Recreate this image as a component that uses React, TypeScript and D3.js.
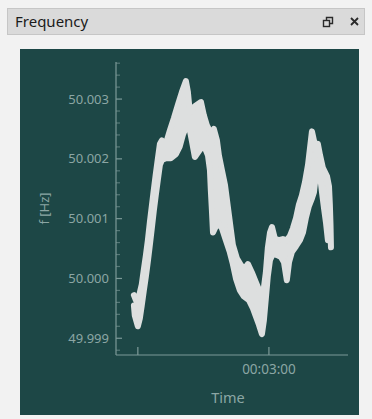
import React from "react";
import * as d3 from "d3";

// Grid frequency record: upper and lower envelope traces of the noisy signal
const timeUpper = [
  118.2, 119.1, 120.5, 121.8, 122.7, 123.7, 124.6, 125.5, 126.4, 127.3, 128.2, 129.2, 130.1, 131.0,
  131.9, 133.3, 134.7, 136.5, 138.3, 140.2, 142.0, 142.9, 143.8, 146.1, 148.9, 150.2, 151.6, 153.4,
  154.8, 156.2, 157.1, 158.5, 159.9, 160.8, 161.7, 162.6, 163.5, 165.3, 167.2, 169.0, 170.4, 172.2,
  174.0, 175.9, 177.2, 178.6, 179.5, 180.5, 181.4, 182.7, 184.6, 186.4, 188.2, 189.6, 191.0, 192.4,
  193.7, 195.1, 196.5, 197.9, 198.8, 199.7, 200.6, 201.5, 202.4, 203.4, 204.7, 206.6, 207.5, 207.9,
  208.2, 208.4,
];
const freqUpper = [
  49.99972, 49.99964, 49.9997, 49.9999, 50.00014, 50.00039, 50.00064, 50.00094, 50.00121, 50.00148,
  50.00174, 50.00201, 50.00225, 50.00231, 50.00221, 50.00231, 50.00248, 50.00268, 50.0029, 50.00312,
  50.0033, 50.00312, 50.00278, 50.00288, 50.00295, 50.00273, 50.00256, 50.00243, 50.0025, 50.00231,
  50.00206, 50.00181, 50.00156, 50.00131, 50.00106, 50.00081, 50.00056, 50.00034, 50.00022, 50.00017,
  50.00024, 50.0001, 49.99994, 49.99977, 49.9997, 50.0001, 50.00051, 50.00077, 50.00086, 50.00067,
  50.00064, 50.00066, 50.00064, 50.00071, 50.00084, 50.00101, 50.00123, 50.00139, 50.00161, 50.0019,
  50.00218, 50.00246, 50.00231, 50.00215, 50.00225, 50.00206, 50.00185, 50.00171, 50.00154, 50.00123,
  50.00089, 50.00052,
];
const timeLower = [
  118.2, 118.6, 120.0, 120.9, 121.8, 122.7, 123.7, 124.6, 125.5, 126.4, 127.3, 128.2, 129.2, 130.1,
  131.0, 132.8, 135.1, 137.4, 139.2, 140.6, 142.0, 143.4, 144.7, 146.1, 148.4, 150.2, 152.1, 153.0,
  153.4, 153.9, 154.4, 156.6, 158.5, 160.3, 162.1, 163.5, 164.9, 166.7, 168.5, 170.8, 172.7, 174.0,
  175.4, 176.8, 177.7, 178.6, 179.5, 180.5, 181.8, 183.7, 185.5, 186.9, 188.2, 189.2, 190.5, 192.4,
  194.2, 195.6, 196.9, 198.3, 199.7, 200.6, 201.5, 202.4, 203.4, 204.3, 205.2, 206.1, 207.0,
];
const freqLower = [
  49.99955, 49.99938, 49.9992, 49.99933, 49.99955, 49.99979, 50.00004, 50.00029, 50.00056, 50.00084,
  50.00113, 50.00139, 50.00166, 50.0019, 50.00198, 50.00201, 50.00201, 50.00208, 50.00221, 50.0024,
  50.00253, 50.00256, 50.00231, 50.00203, 50.00215, 50.00223, 50.00206, 50.00181, 50.00148, 50.00114,
  50.00077, 50.00094, 50.00084, 50.00064, 50.00044, 50.00024, 50.0, 49.9998, 49.9997, 49.99964,
  49.9995, 49.99937, 49.99923, 49.99907, 49.9993, 49.99967, 50.00004, 50.00031, 50.00041, 50.00039,
  50.00036, 50.00027, 49.99997, 50.00027, 50.00044, 50.00054, 50.00064, 50.00077, 50.00101, 50.00121,
  50.00134, 50.00144, 50.00173, 50.00195, 50.00173, 50.00144, 50.00118, 50.00094, 50.00064,
];

const yTicks = [49.999, 50.0, 50.001, 50.002, 50.003];
const xTicks = [120, 180];
const xTickLabels = ["", "00:03:00"];

const W = 372;
const H = 419;
const FONT = "'Noto Sans', 'Open Sans', sans-serif";

const panelBg = "#1d4746";
const axisColor = "#7d9a98";
const labelColor = "#8ba6a4";
const traceColor = "#dddfdf";

export default function App() {
  const plot = { left: 116, right: 348, top: 62, bottom: 355 };

  const x = d3.scaleLinear().domain([110, 216.2]).range([plot.left, plot.right]);
  const y = d3.scaleLinear().domain([49.99872, 50.00362]).range([plot.bottom, plot.top]);

  const line = d3
    .line<[number, number]>()
    .x((d) => x(d[0]))
    .y((d) => y(d[1]));

  const upper = timeUpper.map((t, i) => [t, freqUpper[i]] as [number, number]);
  const lower = timeLower.map((t, i) => [t, freqLower[i]] as [number, number]);

  // the spread between the two envelopes is filled in as one band
  const band = (line(upper.concat(lower.slice().reverse())) ?? "") + "Z";

  // minor ticks every 0.0002 Hz across the domain
  const [y0, y1] = y.domain();
  const minorTicks = d3
    .range(Math.ceil(y0 / 0.0002), Math.floor(y1 / 0.0002) + 1)
    .map((k) => k * 0.0002)
    .filter((v) => !yTicks.some((t) => Math.abs(t - v) < 1e-7));

  const fmt = d3.format(".3f");

  return (
    <svg
      width={W}
      height={H}
      style={{ position: "absolute", left: 0, top: 0, display: "block" }}
    >
      <rect x={0} y={0} width={W} height={H} fill="#f2f2f2" />

      {/* docked window title bar */}
      <rect x={7.5} y={8.5} width={357} height={26} fill="#dadada" stroke="#c6c6c6" />
      <text x={15} y={27} fontFamily={FONT} fontSize={15} fill="#1b1b1b">
        Frequency
      </text>
      <g stroke="#2a2a2a" strokeWidth={1.4} fill="none">
        <rect x={323.5} y={20.5} width={6} height={6} />
        <path d="M326.5 20.5 V17.5 H332.5 V23.5 H329.5" />
        <path d="M351 18 L358 25 M358 18 L351 25" strokeWidth={1.8} />
      </g>

      {/* chart panel */}
      <rect x={20} y={49} width={339} height={366} fill={panelBg} />

      {/* signal band */}
      <path d={band} fill={traceColor} stroke="none" />
      <g fill="none" stroke={traceColor} strokeWidth={6} strokeLinejoin="round" strokeLinecap="round">
        <path d={line(upper) ?? ""} />
        <path d={line(lower) ?? ""} />
      </g>

      {/* y axis */}
      <g stroke={axisColor} strokeWidth={1.2}>
        <line x1={plot.left} x2={plot.left} y1={plot.top} y2={plot.bottom} />
        {yTicks.map((t) => (
          <line key={t} x1={plot.left} x2={plot.left + 6} y1={y(t)} y2={y(t)} />
        ))}
        {minorTicks.map((t) => (
          <line key={t} x1={plot.left} x2={plot.left + 4} y1={y(t)} y2={y(t)} strokeOpacity={0.6} />
        ))}
      </g>
      {yTicks.map((t) => (
        <text
          key={t}
          x={109}
          y={y(t)}
          dy="0.35em"
          textAnchor="end"
          fontFamily={FONT}
          fontSize={13}
          fill={labelColor}
        >
          {fmt(t)}
        </text>
      ))}
      <text
        transform={`translate(44, ${(plot.top + plot.bottom) / 2}) rotate(-90)`}
        textAnchor="middle"
        dy="0.35em"
        fontFamily={FONT}
        fontSize={13}
        fill={labelColor}
      >
        f [Hz]
      </text>

      {/* x axis */}
      <g stroke={axisColor} strokeWidth={1.2}>
        <line x1={plot.left} x2={plot.right} y1={plot.bottom} y2={plot.bottom} />
        {xTicks.map((t) => (
          <line key={t} x1={x(t)} x2={x(t)} y1={plot.bottom} y2={plot.bottom - 8} />
        ))}
      </g>
      {xTicks.map((t, i) => (
        <text
          key={t}
          x={x(t)}
          y={374}
          textAnchor="middle"
          fontFamily={FONT}
          fontSize={13.5}
          fill={labelColor}
        >
          {xTickLabels[i]}
        </text>
      ))}
      <text
        x={(plot.left + plot.right) / 2 - 4}
        y={403}
        textAnchor="middle"
        fontFamily={FONT}
        fontSize={14.5}
        fill={labelColor}
      >
        Time
      </text>
    </svg>
  );
}
